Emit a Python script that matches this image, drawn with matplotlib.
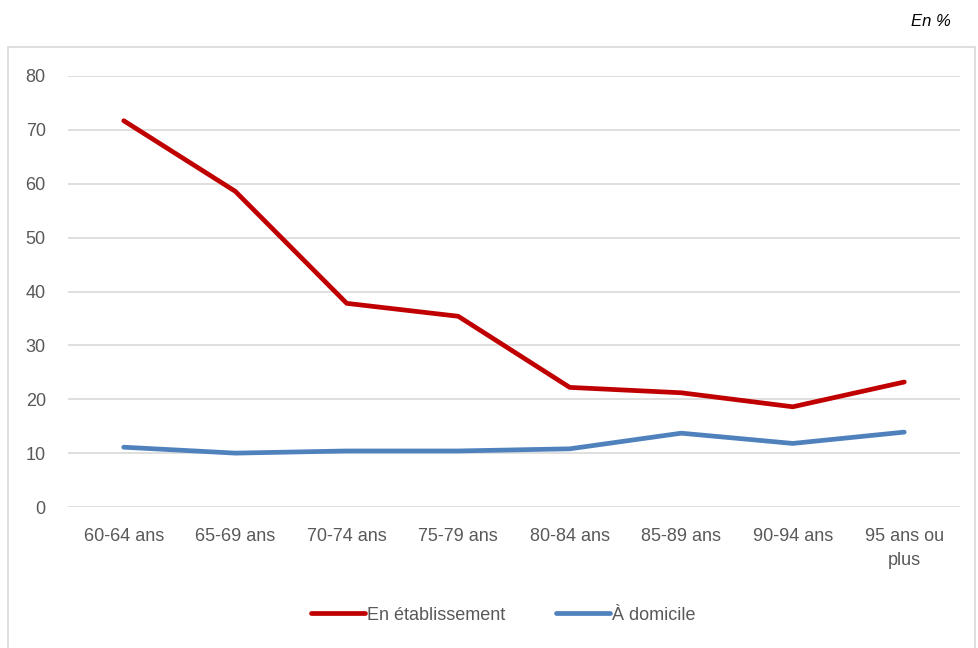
import matplotlib
matplotlib.use("Agg")
import matplotlib.pyplot as plt
from matplotlib.patches import Rectangle

plt.rcParams['font.family'] = ['Liberation Sans Narrow', 'Liberation Sans', 'DejaVu Sans']

categories = ["60-64 ans", "65-69 ans", "70-74 ans", "75-79 ans",
              "80-84 ans", "85-89 ans", "90-94 ans", "95 ans ou\nplus"]
etablissement = [71.7, 58.6, 37.8, 35.4, 22.2, 21.2, 18.6, 23.2]
domicile = [11.1, 10.0, 10.4, 10.4, 10.8, 13.7, 11.8, 13.9]

grey = "#595959"

fig = plt.figure(figsize=(9.79, 6.48), dpi=100)
# outer chart frame
fig.patches.append(Rectangle((8 / 979, -0.05), 967 / 979, 1 - 47 / 648 + 0.05,
                             transform=fig.transFigure, fill=False,
                             edgecolor="#d9d9d9", linewidth=1.2))
ax = fig.add_axes([68 / 979, 141 / 648, 892 / 979, 431 / 648])

x = list(range(len(categories)))
ax.plot(x, etablissement, color="#c00000", linewidth=3.4, label="En établissement",
        solid_capstyle="round", solid_joinstyle="round")
ax.plot(x, domicile, color="#4f81bd", linewidth=3.4, label="À domicile",
        solid_capstyle="round", solid_joinstyle="round")

ax.set_xlim(-0.5, 7.5)
ax.set_ylim(0, 80)
ax.set_yticks(range(0, 81, 10))
ax.set_xticks(x)
ax.set_xticklabels(categories, linespacing=1.55)
ax.grid(axis="y", color="#d9d9d9", linewidth=1.2)
ax.set_axisbelow(True)
for s in ax.spines.values():
    s.set_visible(False)
ax.tick_params(length=0, labelsize=13, colors=grey)
ax.tick_params(axis="x", pad=15)
ax.tick_params(axis="y", pad=16)

leg = fig.legend(loc="center", bbox_to_anchor=(503 / 979, 1 - 615 / 648), ncol=2,
                 frameon=False, fontsize=13, handlelength=3.0, columnspacing=2.8,
                 handletextpad=0.1)
for t in leg.get_texts():
    t.set_color(grey)

fig.text(951 / 979, 1 - 22 / 648, "En %", ha="right", va="center",
         fontsize=12, style="italic", color="black")

fig.savefig("out.png", dpi=100)
